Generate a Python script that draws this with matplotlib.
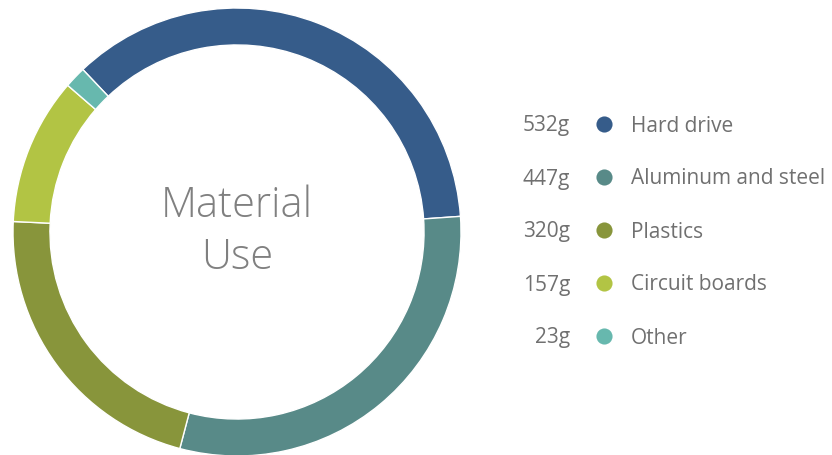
import matplotlib.pyplot as plt

labels = ['Hard drive', 'Aluminum and steel', 'Plastics', 'Circuit boards', 'Other']
grams = [532, 447, 320, 157, 23]
colors = ['#365c8a', '#588a88', '#88953b', '#b2c444', '#67b8ae']

W, H = 832, 455
fig = plt.figure(figsize=(W/100, H/100), dpi=100)

# donut axes, placed in pixel terms
cx, cy, r = 237, 232, 224
ax = fig.add_axes([(cx - r)/W, (H - cy - r)/H, 2*r/W, 2*r/H])
ax.pie(grams, colors=colors, startangle=133.5, counterclock=False,
       radius=1.0, wedgeprops=dict(width=0.165, edgecolor='white', linewidth=1))
ax.set_xlim(-1, 1)
ax.set_ylim(-1, 1)
ax.set_aspect('equal')
ax.axis('off')

ax.text(0, 0.115, 'Material', ha='center', va='center', fontsize=30,
        color='#808080', family='Open Sans', fontweight='light')
ax.text(0, -0.115, 'Use', ha='center', va='center', fontsize=30,
        color='#808080', family='Open Sans', fontweight='light')

# legend drawn on an overlay in pixel coordinates
lx = fig.add_axes([0, 0, 1, 1])
lx.set_xlim(0, W)
lx.set_ylim(H, 0)
lx.axis('off')
lx.patch.set_alpha(0)

y0, dy = 124, 53
for i, (lab, g, c) in enumerate(zip(labels, grams, colors)):
    y = y0 + i*dy
    lx.text(570, y + 2, '%dg' % g, ha='right', va='center', fontsize=15,
            color='#707070', family='Open Sans')
    lx.scatter([604], [y], s=135, color=c, linewidths=0)
    lx.text(631, y + 2, lab, ha='left', va='center', fontsize=15,
            color='#707070', family='Open Sans')

fig.savefig('out.png', dpi=100)
